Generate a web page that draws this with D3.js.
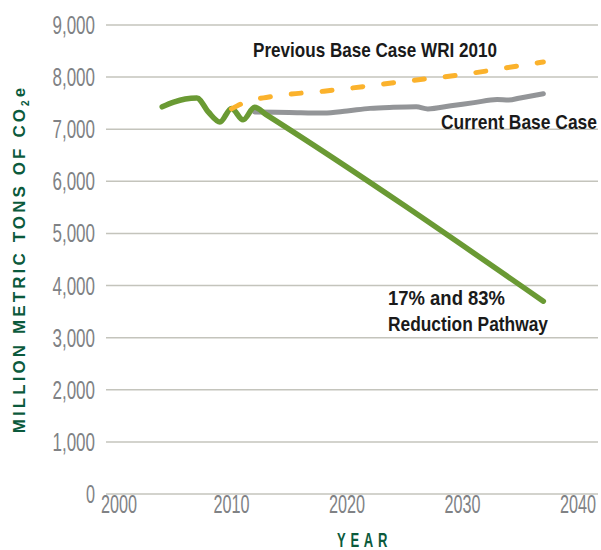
<!DOCTYPE html>
<html>
<head>
<meta charset="utf-8">
<script src="https://cdn.jsdelivr.net/npm/d3@7"></script>
<style>
  html, body { margin: 0; padding: 0; background: #ffffff; }
  svg { display: block; }
</style>
</head>
<body>
<svg id="chart" width="601" height="550"></svg>
<script>
// ---------- data ----------
const yTicks = [0, 1000, 2000, 3000, 4000, 5000, 6000, 7000, 8000, 9000];
const xTicks = [2000, 2010, 2020, 2030, 2040];

const reductionYears  = [2004, 2005, 2006, 2007, 2008, 2009, 2010, 2011, 2012, 2013, 2037];
const reductionValues = [7430, 7520, 7580, 7600, 7330, 7140, 7400, 7180, 7420, 7280, 3700];

const currentYears  = [2012, 2015, 2018, 2020, 2022, 2024, 2026, 2027, 2029, 2031, 2033, 2034, 2035, 2037];
const currentValues = [7330, 7320, 7310, 7350, 7400, 7420, 7430, 7390, 7450, 7510, 7570, 7560, 7600, 7680];

const previousYears  = [2010, 2011, 2012, 2013, 2015, 2018, 2020, 2025, 2030, 2035, 2037];
const previousValues = [7390, 7500, 7570, 7610, 7670, 7730, 7780, 7920, 8050, 8220, 8290];

const seriesLabels = {
  previous: "Previous Base Case WRI 2010",
  current: "Current Base Case",
  reduction: ["17% and 83%", "Reduction Pathway"]
};
const yTitle = ["MILLION METRIC TONS OF CO", "2", "e"];
const xTitle = "YEAR";

// ---------- layout ----------
const svg = d3.select("#chart");
const gridLeft = 106, gridRight = 598;
const x = d3.scaleLinear().domain([2000, 2040]).range([116, 578]);
const y = d3.scaleLinear().domain([0, 9000]).range([494, 25]);

const FONT = "'Liberation Sans Narrow', 'Arial Narrow', 'Liberation Sans', Arial, sans-serif";

// gridlines
svg.append("g").selectAll("line").data(yTicks).join("line")
  .attr("x1", gridLeft).attr("x2", gridRight)
  .attr("y1", d => y(d)).attr("y2", d => y(d))
  .attr("stroke", "#c4c4bc").attr("stroke-width", 1.5);

// y tick labels
const fmt = d3.format(",");
function fitWidth(sel, perChar) {
  sel.each(function(d) {
    const s = this.textContent;
    let w = 0;
    for (const ch of s) w += (ch === "," ? perChar.comma : perChar.digit);
    this.setAttribute("textLength", w);
    this.setAttribute("lengthAdjust", "spacingAndGlyphs");
  });
}
const yLab = svg.append("g").selectAll("text").data(yTicks).join("text")
  .attr("x", 95).attr("y", d => y(d) + 9)
  .attr("text-anchor", "end")
  .attr("font-family", FONT).attr("font-size", 25)
  .attr("fill", "#808285")
  .text(d => fmt(d));
fitWidth(yLab, { digit: 9, comma: 6.5 });

// x tick labels
const xLab = svg.append("g").selectAll("text").data(xTicks).join("text")
  .attr("x", (d, i) => x(d) + (i === 0 ? 3 : 0)).attr("y", 513)
  .attr("text-anchor", "middle")
  .attr("font-family", FONT).attr("font-size", 25)
  .attr("fill", "#808285")
  .text(d => d);
fitWidth(xLab, { digit: 9, comma: 6.5 });

// lines
const line = d3.line().x(d => x(d[0])).y(d => y(d[1])).curve(d3.curveMonotoneX);
const zip = (a, b) => a.map((v, i) => [v, b[i]]);

svg.append("path").datum(zip(currentYears, currentValues))
  .attr("d", line).attr("fill", "none")
  .attr("stroke", "#939598").attr("stroke-width", 5)
  .attr("stroke-linecap", "round").attr("stroke-linejoin", "round");

svg.append("path").datum(zip(reductionYears, reductionValues))
  .attr("d", line).attr("fill", "none")
  .attr("stroke", "#6a9a34").attr("stroke-width", 5.5)
  .attr("stroke-linecap", "round").attr("stroke-linejoin", "round");

svg.append("path").datum(zip(previousYears, previousValues))
  .attr("d", line).attr("fill", "none")
  .attr("stroke", "#fbb22c").attr("stroke-width", 5)
  .attr("stroke-dasharray", "10,21")
  .attr("stroke-linecap", "round");

// series labels
function label(txt, xPos, yPos, width) {
  svg.append("text")
    .attr("x", xPos).attr("y", yPos)
    .attr("font-family", FONT).attr("font-weight", "bold").attr("font-size", 21)
    .attr("fill", "#1a1a1a")
    .attr("textLength", width).attr("lengthAdjust", "spacingAndGlyphs")
    .text(txt);
}
label(seriesLabels.previous, 253, 57, 244);
label(seriesLabels.current, 441, 129, 156);
label(seriesLabels.reduction[0], 388, 305, 117);
label(seriesLabels.reduction[1], 388, 331, 160);

// axis titles
const yt = svg.append("text")
  .attr("transform", "translate(25,259) rotate(-90)")
  .attr("text-anchor", "middle")
  .attr("font-family", FONT).attr("font-weight", "bold").attr("font-size", 17)
  .attr("letter-spacing", 3.1)
  .attr("fill", "#0b5a3c");
yt.append("tspan").text(yTitle[0]);
yt.append("tspan").attr("font-size", 10).attr("dy", 4).text(yTitle[1]);
yt.append("tspan").attr("dy", -4).text(yTitle[2]);

svg.append("g").attr("transform", "translate(337,547) scale(0.62,1)")
  .append("text")
  .attr("x", 0).attr("y", 0)
  .attr("font-family", FONT).attr("font-weight", "bold").attr("font-size", 21)
  .attr("letter-spacing", 7.6)
  .attr("fill", "#0b5a3c")
  .text(xTitle);
</script>
</body>
</html>
